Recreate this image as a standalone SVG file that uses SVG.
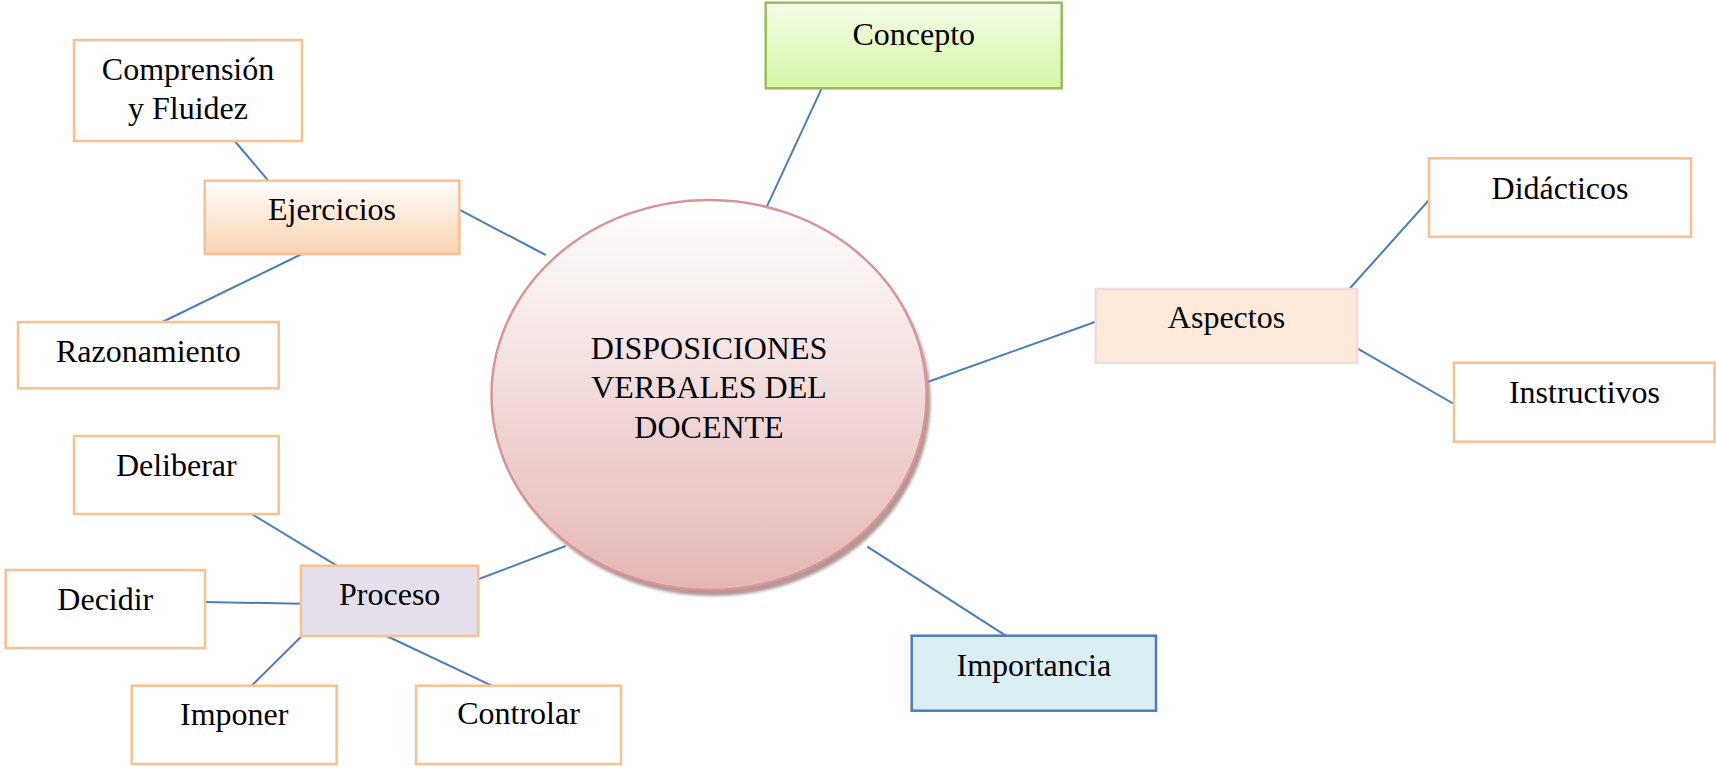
<svg xmlns="http://www.w3.org/2000/svg" width="1716" height="767" viewBox="0 0 1716 767">
<defs>
<linearGradient id="gCircle" x1="0" y1="0" x2="0" y2="1">
<stop offset="0" stop-color="#FFFFFF"/>
<stop offset="1" stop-color="#E4B6B5"/>
</linearGradient>
<linearGradient id="gPeach" x1="0" y1="0" x2="0" y2="1">
<stop offset="0" stop-color="#FFFFFF"/>
<stop offset="0.55" stop-color="#FDE5D2"/>
<stop offset="1" stop-color="#FBD4B4"/>
</linearGradient>
<linearGradient id="gGreen" x1="0" y1="0" x2="0" y2="1">
<stop offset="0" stop-color="#F3FDE7"/>
<stop offset="1" stop-color="#D6F5A6"/>
</linearGradient>
<filter id="shadow" x="-10%" y="-10%" width="120%" height="120%">
<feGaussianBlur stdDeviation="1.5"/>
</filter>
<style>
text{font-family:"Liberation Serif","Times New Roman",serif;font-size:32px;fill:#000;text-anchor:middle}
.box{fill:#FFFFFF;stroke:#FAC08F;stroke-width:2.5}
.conn line{stroke:#4A7EBB;stroke-width:2;fill:none}
</style>
</defs>
<rect width="1716" height="767" fill="#FFFFFF"/>
<g id="connectors" class="conn">
<line x1="821.7" y1="88.3" x2="766" y2="208.3"/>
<line x1="459.3" y1="209.7" x2="545.7" y2="255"/>
<line x1="234.7" y1="141" x2="268.3" y2="180.7"/>
<line x1="301.7" y1="254" x2="162.3" y2="322"/>
<line x1="1095.7" y1="321.7" x2="928.3" y2="381.7"/>
<line x1="1349.3" y1="289" x2="1429" y2="200"/>
<line x1="1357.3" y1="348.3" x2="1454" y2="404"/>
<line x1="867.3" y1="546.7" x2="1005.7" y2="635.7"/>
<line x1="478.3" y1="579.3" x2="565.7" y2="546"/>
<line x1="251.7" y1="514" x2="336.7" y2="565.7"/>
<line x1="205" y1="602" x2="301" y2="603.7"/>
<line x1="301" y1="636.7" x2="251.7" y2="685.7"/>
<line x1="386.7" y1="636" x2="491.7" y2="685.7"/>
</g>
<g id="center">
<ellipse cx="713" cy="401" rx="217.5" ry="195" fill="#A58585" opacity="0.85" filter="url(#shadow)"/>
<ellipse cx="709" cy="395" rx="217.5" ry="195" fill="url(#gCircle)" stroke="#D99594" stroke-width="2.5"/>
<text x="709" y="359.3">DISPOSICIONES</text>
<text x="709" y="398.3">VERBALES DEL</text>
<text x="709" y="438.3">DOCENTE</text>
</g>
<g id="concepto">
<rect x="765.7" y="2.7" width="296" height="85.6" fill="url(#gGreen)" stroke="#9BBB59" stroke-width="2.5"/>
<text x="913.7" y="45">Concepto</text>
</g>
<g id="ejercicios">
<rect x="204.7" y="180.7" width="254.6" height="73.3" fill="url(#gPeach)" stroke="#FAC08F" stroke-width="2.5"/>
<text x="332" y="220">Ejercicios</text>
</g>
<g id="comprension">
<rect class="box" x="74" y="40" width="228" height="101"/>
<text x="188" y="80">Comprensión</text>
<text x="188" y="119.3">y Fluidez</text>
</g>
<g id="razonamiento">
<rect class="box" x="18" y="322" width="260.7" height="66.3"/>
<text x="148.3" y="361.7">Razonamiento</text>
</g>
<g id="aspectos">
<rect x="1095.7" y="289" width="261.6" height="73.7" fill="#FDE9D9" stroke="#F2DBDB" stroke-width="2.5"/>
<text x="1226.5" y="328.3">Aspectos</text>
</g>
<g id="didacticos">
<rect class="box" x="1429" y="158.3" width="262" height="78.4"/>
<text x="1560" y="199.3">Didácticos</text>
</g>
<g id="instructivos">
<rect class="box" x="1454" y="362.7" width="260.5" height="79"/>
<text x="1584.5" y="402.7">Instructivos</text>
</g>
<g id="importancia">
<rect x="911.7" y="635.7" width="244.3" height="75" fill="#DAEEF3" stroke="#4A7EBB" stroke-width="2.5"/>
<text x="1033.8" y="676">Importancia</text>
</g>
<g id="proceso">
<rect x="301" y="565.7" width="177.3" height="70.3" fill="#E5DFEC" stroke="#FAC08F" stroke-width="2.5"/>
<text x="389.7" y="605">Proceso</text>
</g>
<g id="deliberar">
<rect class="box" x="74" y="436" width="204.7" height="78"/>
<text x="176.3" y="476">Deliberar</text>
</g>
<g id="decidir">
<rect class="box" x="5.7" y="570" width="199.3" height="78"/>
<text x="105.3" y="610">Decidir</text>
</g>
<g id="imponer">
<rect class="box" x="131.7" y="685.7" width="205" height="78.3"/>
<text x="234.2" y="725">Imponer</text>
</g>
<g id="controlar">
<rect class="box" x="416" y="685.7" width="205" height="78.3"/>
<text x="518.5" y="724">Controlar</text>
</g>
</svg>
